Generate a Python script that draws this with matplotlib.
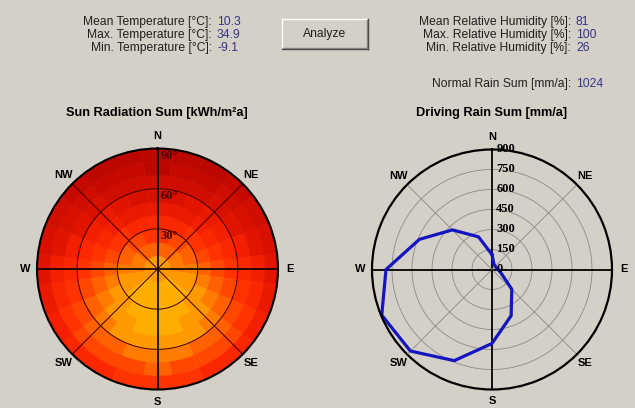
import matplotlib
matplotlib.use('Agg')
import matplotlib.pyplot as plt
import numpy as np
from matplotlib.colors import LinearSegmentedColormap, BoundaryNorm
from matplotlib.patches import Rectangle
from matplotlib.lines import Line2D

W, H = 635, 408
BG = '#d4d0c8'
VALUE_COLOR = '#35358a'

# climate summary
temp_labels = ['Mean Temperature [°C]:', 'Max. Temperature [°C]:', 'Min. Temperature [°C]:']
temp_values = ['10.3', '34.9', '-9.1']
hum_labels = ['Mean Relative Humidity [%]:', 'Max. Relative Humidity [%]:', 'Min. Relative Humidity [%]:']
hum_values = ['81', '100', '26']
rain_label = 'Normal Rain Sum [mm/a]:'
rain_value = '1024'

compass = ['N', 'NE', 'E', 'SE', 'S', 'SW', 'W', 'NW']

# sun radiation [kWh/m2a], rows = tilt bands 0-10 ... 80-90, columns = azimuth N, 15, 30 ... 345
tilt_edges = [0, 10, 20, 30, 40, 50, 60, 70, 80, 90]
azimuths = np.arange(0, 360, 15)
radiation = [
    [1080, 1081, 1083, 1086, 1090, 1095, 1100, 1105, 1110, 1114, 1117, 1119, 1120, 1119, 1117, 1114, 1110, 1105, 1100, 1095, 1090, 1086, 1083, 1081],
    [990, 993, 1001, 1013, 1031, 1052, 1075, 1100, 1123, 1144, 1161, 1171, 1175, 1171, 1161, 1144, 1123, 1100, 1075, 1052, 1031, 1013, 1001, 993],
    [890, 895, 910, 933, 964, 1000, 1040, 1080, 1119, 1152, 1178, 1194, 1200, 1194, 1178, 1152, 1119, 1080, 1040, 1000, 964, 933, 910, 895],
    [780, 788, 810, 845, 889, 941, 995, 1048, 1097, 1138, 1169, 1188, 1195, 1188, 1169, 1138, 1097, 1048, 995, 941, 889, 845, 810, 788],
    [670, 680, 709, 754, 811, 874, 940, 1003, 1058, 1104, 1137, 1158, 1165, 1158, 1137, 1104, 1058, 1003, 940, 874, 811, 754, 709, 680],
    [570, 581, 615, 666, 731, 802, 875, 943, 1003, 1051, 1087, 1108, 1115, 1108, 1087, 1051, 1003, 943, 875, 802, 731, 666, 615, 581],
    [480, 492, 529, 584, 653, 729, 805, 875, 936, 983, 1018, 1038, 1045, 1038, 1018, 983, 936, 875, 805, 729, 653, 584, 529, 492],
    [410, 422, 458, 513, 581, 656, 730, 798, 856, 902, 934, 954, 960, 954, 934, 902, 856, 798, 730, 656, 581, 513, 458, 422],
    [360, 371, 404, 453, 515, 583, 650, 712, 765, 807, 837, 854, 860, 854, 837, 807, 765, 712, 650, 583, 515, 453, 404, 371],
]
tilt_ticks = [30, 60, 90]

# driving rain [mm/a] for 16 wind directions, N clockwise
rain_dirs = np.arange(0, 360, 22.5)
driving_rain = [112, 40, 35, 35, 45, 75, 210, 375, 555, 740, 865, 895, 795, 590, 420, 265]
rain_ticks = [0, 150, 300, 450, 600, 750, 900]


def fx(x):
    return x / W


def fy(y):
    return 1 - y / H


fig = plt.figure(figsize=(W / 100, H / 100), dpi=100, facecolor=BG)
sans = 'Liberation Sans'
serif = 'Liberation Serif'
FS = 8.7

# text block at the top
for i, (lab, val) in enumerate(zip(temp_labels, temp_values)):
    y = fy(22 + 13 * i)
    fig.text(fx(212), y, lab, ha='right', va='center', fontsize=FS, family=sans, color='#202020')
    fig.text(fx(217), y, val, ha='left', va='center', fontsize=FS, family=sans, color=VALUE_COLOR)
for i, (lab, val) in enumerate(zip(hum_labels, hum_values)):
    y = fy(22 + 13 * i)
    fig.text(fx(571), y, lab, ha='right', va='center', fontsize=FS, family=sans, color='#202020')
    fig.text(fx(576), y, val, ha='left', va='center', fontsize=FS, family=sans, color=VALUE_COLOR)
fig.text(fx(571), fy(84), rain_label, ha='right', va='center', fontsize=FS, family=sans, color='#202020')
fig.text(fx(576), fy(84), rain_value, ha='left', va='center', fontsize=FS, family=sans, color=VALUE_COLOR)

# the Analyze button
bx0, by0, bx1, by1 = 282, 19, 368, 49
fig.add_artist(Rectangle((fx(bx0), fy(by1)), fx(bx1 - bx0), (by1 - by0) / H,
                         transform=fig.transFigure, facecolor=BG, edgecolor='none'))
for xs, ys, c in [((bx0, bx1), (by0, by0), 'white'), ((bx0, bx0), (by0, by1), 'white'),
                  ((bx0, bx1), (by1, by1), '#404040'), ((bx1, bx1), (by0, by1), '#404040'),
                  ((bx0 + 1, bx1 - 1), (by1 - 1, by1 - 1), '#808080'),
                  ((bx1 - 1, bx1 - 1), (by0 + 1, by1 - 1), '#808080')]:
    fig.add_artist(Line2D([fx(v) for v in xs], [fy(v) for v in ys], color=c, lw=1,
                          transform=fig.transFigure))
fig.text(fx((bx0 + bx1) / 2), fy((by0 + by1) / 2), 'Analyze', ha='center', va='center',
         fontsize=FS, family=sans, color='#202020')


def polar_axes(cx, cy, r):
    ax = fig.add_axes([fx(cx - r), fy(cy + r), 2 * r / W, 2 * r / H], projection='polar')
    ax.set_theta_zero_location('N')
    ax.set_theta_direction(-1)
    ax.set_xticks([])
    ax.set_yticks([])
    ax.grid(False)
    ax.set_facecolor(BG)
    return ax


def compass_labels(ax, rmax):
    for k, lab in enumerate(compass):
        ax.text(np.deg2rad(45 * k), rmax * 1.1, lab, ha='center', va='center',
                fontsize=8, fontweight='bold', family=sans, clip_on=False)


circle = np.linspace(0, 2 * np.pi, 361)

# ---- sun radiation
ax1 = polar_axes(157.5, 269, 120.5)
vmin, vmax = 360, 1200
stops = [(360, '#bc0600'), (550, '#d81000'), (700, '#ee1a00'), (850, '#ff2c00'),
         (950, '#ff4a00'), (1050, '#ff7400'), (1120, '#ff9400'), (1200, '#ffae00')]
cmap = LinearSegmentedColormap.from_list(
    'sun', [((v - vmin) / (vmax - vmin), c) for v, c in stops])
norm = BoundaryNorm(np.arange(360, 1230, 60), cmap.N)
rad = np.array(radiation)
width = np.deg2rad(15)
for i in range(len(tilt_edges) - 1):
    ax1.bar(np.deg2rad(azimuths), tilt_edges[i + 1] - tilt_edges[i], width=width,
            bottom=tilt_edges[i], color=cmap(norm(rad[i])), edgecolor=cmap(norm(rad[i])),
            linewidth=0.4, align='center')
for t in tilt_ticks[:-1]:
    ax1.plot(circle, np.full_like(circle, t), color='#3a0000', lw=0.7)
for k in range(8):
    th = np.deg2rad(45 * k)
    ax1.plot([th, th], [0, 90], color='black' if k % 2 == 0 else '#3a0000',
             lw=1.2 if k % 2 == 0 else 0.7)
for t in tilt_ticks:
    ax1.annotate(f'{t}°', xy=(0, t), xytext=(2, -1), textcoords='offset points',
                 ha='left', va='top', fontsize=9, fontweight='bold', family=serif,
                 color='#4a0404')
ax1.set_ylim(0, 90)
ax1.spines['polar'].set_linewidth(1.5)
compass_labels(ax1, 90)
fig.text(fx(157), fy(113), 'Sun Radiation Sum [kWh/m²a]', ha='center', va='center',
         fontsize=9.2, fontweight='bold', family=sans)

# ---- driving rain
ax2 = polar_axes(492, 269.5, 120)
for t in rain_ticks[1:-1]:
    ax2.plot(circle, np.full_like(circle, t), color='#8a8a8a', lw=0.6)
for k in range(8):
    th = np.deg2rad(45 * k)
    ax2.plot([th, th], [0, 900], color='black' if k % 2 == 0 else '#8a8a8a',
             lw=1.3 if k % 2 == 0 else 0.6)
th = np.deg2rad(np.append(rain_dirs, rain_dirs[0]))
ax2.plot(th, driving_rain + driving_rain[:1], color='#1414c0', lw=2.3)
for t in rain_ticks:
    ax2.annotate(str(t), xy=(0, t), xytext=(3, 0), textcoords='offset points',
                 ha='left', va='center', fontsize=9, fontweight='bold', family=serif)
ax2.set_ylim(0, 900)
ax2.spines['polar'].set_linewidth(1.6)
compass_labels(ax2, 900)
fig.text(fx(492), fy(113), 'Driving Rain Sum [mm/a]', ha='center', va='center',
         fontsize=9.2, fontweight='bold', family=sans)

plt.savefig('out.png', dpi=100, facecolor=BG)
